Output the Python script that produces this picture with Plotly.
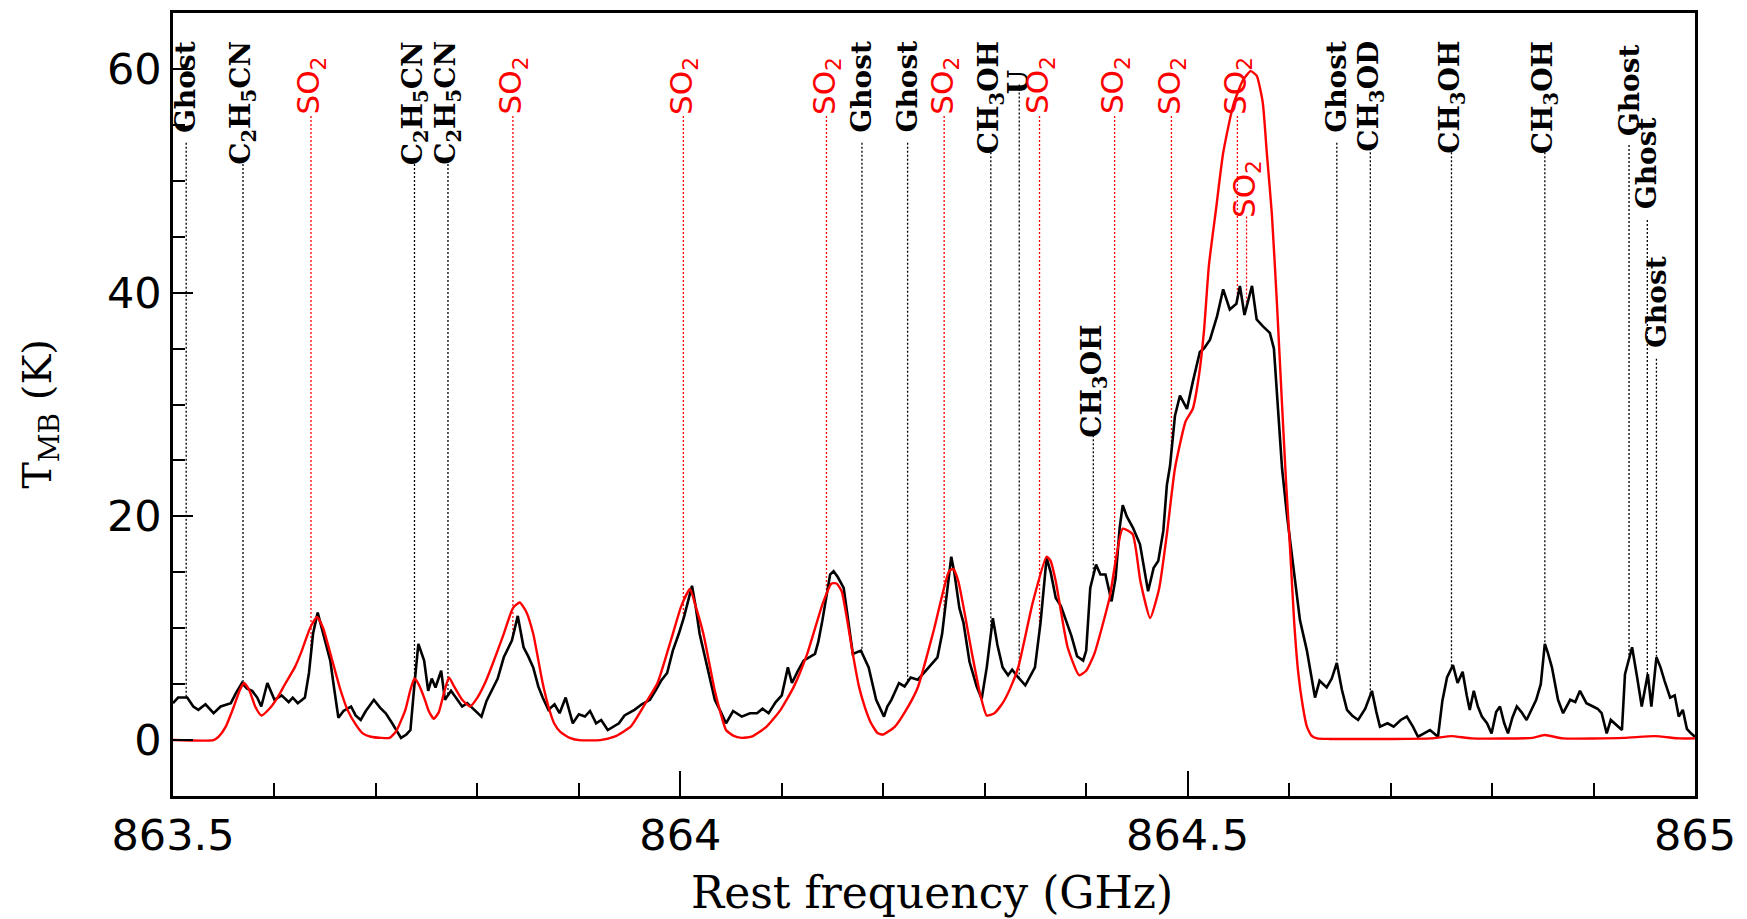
import numpy as np
import plotly.graph_objects as go

# ---------------- data ----------------
obs_freq = [863.500, 863.505, 863.514, 863.520, 863.525, 863.532, 863.540, 863.547, 863.557, 863.562,
            863.568, 863.573, 863.578, 863.583, 863.587, 863.593, 863.600, 863.607, 863.614, 863.618,
            863.623, 863.630, 863.634, 863.638, 863.6426, 863.6494, 863.655, 863.659, 863.663, 863.668,
            863.6755, 863.680, 863.685, 863.690, 863.698, 863.704, 863.7097, 863.716, 863.7247, 863.730,
            863.734, 863.738, 863.7418, 863.7475, 863.7515, 863.755, 863.7587, 863.7643, 863.768, 863.774,
            863.779, 863.785, 863.790, 863.7965, 863.804, 863.809, 863.8154, 863.820, 863.826, 863.834,
            863.8398, 863.8455, 863.850, 863.855, 863.860, 863.8643, 863.870, 863.876, 863.881, 863.887,
            863.894, 863.900, 863.906, 863.911, 863.917, 863.922, 863.9285, 863.934, 863.9395, 863.945,
            863.9548, 863.962, 863.970, 863.976, 863.981, 863.987, 863.9926, 863.9985, 864.0036, 864.0115,
            864.015, 864.019, 864.0263, 864.034, 864.040, 864.045, 864.052, 864.0605, 864.0686, 864.0756,
            864.081, 864.087, 864.094, 864.100, 864.106, 864.110, 864.116, 864.1215, 864.1327, 864.136,
            864.140, 864.1476, 864.151, 864.155, 864.161, 864.166, 864.170, 864.178, 864.1856, 864.193,
            864.197, 864.2007, 864.204, 864.208, 864.2155, 864.221, 864.227, 864.234, 864.242, 864.2534,
            864.258, 864.262, 864.267, 864.270, 864.275, 864.279, 864.285, 864.292, 864.297, 864.302,
            864.308, 864.3125, 864.3176, 864.323, 864.327, 864.333, 864.340, 864.3495, 864.355, 864.361,
            864.365, 864.370, 864.375, 864.3855, 864.391, 864.397, 864.400, 864.404, 864.4097, 864.414,
            864.419, 864.425, 864.429, 864.433, 864.436, 864.440, 864.446, 864.453, 864.461, 864.4665,
            864.471, 864.476, 864.4795, 864.4826, 864.4875, 864.4924, 864.4993, 864.505, 864.512, 864.516,
            864.522, 864.529, 864.535, 864.5415, 864.548, 864.5515, 864.556, 864.5634, 864.568, 864.574,
            864.581, 864.585, 864.589, 864.593, 864.598, 864.604, 864.6107, 864.6175, 864.6255, 864.630,
            864.637, 864.642, 864.647, 864.652, 864.657, 864.662, 864.668, 864.675, 864.6816, 864.686,
            864.6895, 864.697, 864.703, 864.710, 864.716, 864.722, 864.727, 864.733, 864.7388, 864.7467,
            864.751, 864.7556, 864.7615, 864.766, 864.771, 864.775, 864.778, 864.782, 864.786, 864.790,
            864.795, 864.7995, 864.804, 864.8078, 864.812, 864.8157, 864.820, 864.8244, 864.829, 864.834,
            864.839, 864.8435, 864.848, 864.852, 864.855, 864.859, 864.865, 864.870, 864.877, 864.882,
            864.8866, 864.893, 864.8995, 864.904, 864.908, 864.913, 864.917, 864.921, 864.928, 864.931,
            864.938, 864.943, 864.9475, 864.9535, 864.957, 864.962, 864.966, 864.970, 864.9755, 864.980,
            864.984, 864.988, 864.992, 864.996, 865.000]
obs_tmb = [3.3, 3.8, 3.8, 3.0, 2.7, 3.2, 2.4, 3.0, 3.3, 4.2,
           5.1, 4.6, 4.4, 3.8, 3.0, 5.1, 3.6, 4.0, 3.4, 3.8,
           3.3, 3.8, 6.0, 9.5, 11.4, 8.9, 7.1, 4.5, 2.0, 2.6,
           3.0, 2.2, 1.8, 2.6, 3.6, 2.9, 2.4, 1.5, 0.2, 0.5,
           0.9, 5.0, 8.6, 7.1, 4.4, 5.5, 4.7, 6.2, 3.6, 4.4,
           3.8, 3.0, 3.3, 2.7, 2.1, 3.5, 4.7, 5.5, 7.4, 8.9,
           11.1, 8.3, 7.5, 6.5, 4.8, 3.8, 2.7, 3.2, 2.4, 3.8,
           1.5, 2.3, 2.1, 2.6, 1.5, 1.8, 0.9, 1.2, 1.5, 2.2,
           2.7, 3.2, 3.6, 4.5, 5.3, 6.0, 8.0, 9.5, 11.0, 13.8,
           12.0, 9.5, 6.5, 3.6, 2.5, 1.5, 2.6, 2.1, 2.4, 2.4,
           2.8, 2.4, 3.4, 4.0, 6.5, 5.1, 6.2, 7.1, 7.7, 8.8,
           10.7, 14.8, 15.1, 14.6, 13.6, 10.5, 7.7, 8.0, 6.5, 3.6,
           2.8, 2.1, 3.0, 3.6, 5.1, 4.8, 5.6, 5.4, 6.2, 7.4,
           9.5, 12.5, 16.4, 15.0, 11.8, 10.5, 7.0, 4.8, 3.7, 6.5,
           10.9, 8.5, 6.5, 5.8, 6.3, 5.6, 4.9, 6.5, 10.5, 16.3,
           15.0, 12.7, 12.0, 9.3, 7.5, 7.1, 8.0, 13.6, 15.7, 14.8,
           14.8, 12.4, 14.5, 19.0, 21.0, 20.0, 19.0, 17.5, 13.3, 15.4,
           16.0, 18.7, 22.8, 24.5, 29.0, 30.8, 29.6, 32.0, 34.7, 35.0,
           35.8, 37.9, 40.3, 38.5, 39.0, 40.6, 38.0, 40.6, 37.6, 37.0,
           36.4, 35.0, 30.0, 24.3, 20.0, 15.4, 10.7, 8.0, 3.8, 5.3,
           4.7, 5.5, 6.9, 4.5, 2.7, 2.2, 1.8, 2.8, 4.4, 2.5,
           1.2, 1.5, 1.2, 1.8, 2.1, 1.2, 0.3, 0.6, 0.9, 0.3,
           3.5, 5.6, 6.7, 5.1, 6.1, 4.0, 2.7, 4.4, 3.0, 2.1,
           1.5, 0.6, 2.5, 3.0, 1.5, 0.6, 2.0, 3.0, 2.5, 1.8,
           2.8, 3.6, 5.0, 8.6, 7.8, 6.5, 3.6, 2.4, 3.6, 3.4,
           4.4, 3.3, 3.0, 2.8, 2.4, 0.6, 1.8, 1.5, 0.9, 5.9,
           8.3, 5.6, 3.0, 5.9, 3.0, 7.4, 6.5, 5.3, 3.8, 4.0,
           2.1, 2.7, 1.0, 0.6, 0.3]

mod_freq = [863.500, 863.540, 863.545, 863.552, 863.560, 863.566, 863.570, 863.575, 863.581, 863.587,
            863.595, 863.603, 863.611, 863.620, 863.627, 863.635, 863.642, 863.648, 863.657, 863.665,
            863.672, 863.680, 863.687, 863.695, 863.705, 863.7135, 863.720, 863.729, 863.734, 863.738,
            863.742, 863.7475, 863.752, 863.757, 863.762, 863.767, 863.772, 863.777, 863.785, 863.7927,
            863.800, 863.8075, 863.815, 863.826, 863.835, 863.8417, 863.848, 863.855, 863.8643, 863.870,
            863.8756, 863.882, 863.891, 863.900, 863.921, 863.935, 863.951, 863.965, 863.9775, 863.9926,
            864.001, 864.0095, 864.015, 864.0227, 864.034, 864.040, 864.045, 864.052, 864.0605, 864.070,
            864.085, 864.0988, 864.112, 864.125, 864.1403, 864.149, 864.154, 864.159, 864.170, 864.176,
            864.182, 864.188, 864.1947, 864.200, 864.2115, 864.222, 864.234, 864.2497, 864.2648, 864.269,
            864.274, 864.2875, 864.295, 864.302, 864.3095, 864.3176, 864.325, 864.333, 864.3476, 864.361,
            864.365, 864.370, 864.3817, 864.393, 864.400, 864.408, 864.423, 864.436, 864.4458, 864.4534,
            864.463, 864.472, 864.4795, 864.4875, 864.498, 864.505, 864.511, 864.516, 864.521, 864.528,
            864.535, 864.545, 864.5545, 864.562, 864.568, 864.574, 864.578, 864.583, 864.588, 864.593,
            864.597, 864.601, 864.605, 864.609, 864.6135, 864.6175, 864.622, 864.6275, 864.640, 864.700,
            864.740, 864.760, 864.780, 864.840, 864.852, 864.870, 864.930, 864.960, 864.985, 865.000]
mod_tmb = [0.0, 0.0, 0.3, 1.2, 3.0, 4.5, 5.1, 4.5, 3.0, 2.2,
           2.8, 3.8, 5.1, 6.5, 8.0, 10.0, 11.0, 10.0, 7.1, 4.5,
           2.7, 1.4, 0.6, 0.3, 0.2, 0.2, 0.8, 2.7, 4.5, 5.5,
           5.0, 3.8, 2.6, 1.9, 2.5, 4.2, 5.6, 4.8, 3.6, 3.0,
           3.8, 5.1, 6.8, 9.5, 11.8, 12.3, 11.5, 9.5, 5.1, 3.0,
           1.5, 0.7, 0.2, 0.0, 0.0, 0.3, 1.2, 3.2, 5.1, 9.5,
           12.0, 13.5, 12.0, 9.5, 4.4, 2.3, 0.9, 0.4, 0.2, 0.3,
           1.2, 2.7, 4.8, 7.7, 12.2, 14.0, 14.0, 13.3, 7.7, 4.8,
           2.9, 1.5, 0.6, 0.5, 1.2, 2.6, 4.7, 9.8, 15.1, 15.3,
           14.2, 7.7, 4.3, 2.2, 2.4, 3.3, 4.6, 6.5, 12.4, 16.4,
           16.0, 14.2, 8.3, 5.8, 6.2, 7.7, 12.7, 18.9, 18.4, 14.2,
           10.9, 13.6, 18.4, 24.3, 28.5, 29.6, 32.5, 36.5, 42.5, 47.5,
           52.5, 56.8, 59.0, 59.8, 59.4, 57.0, 52.5, 47.0, 39.0, 30.0,
           23.0, 17.0, 10.5, 6.0, 3.0, 1.2, 0.4, 0.15, 0.1, 0.1,
           0.15, 0.35, 0.15, 0.2, 0.45, 0.15, 0.2, 0.35, 0.15, 0.15]

# line identifications
line_freq = [863.513, 863.569, 863.636, 863.738, 863.771, 863.835, 864.003, 864.144, 864.179, 864.224,
             864.260, 864.306, 864.334, 864.354, 864.407, 864.428, 864.484, 864.549, 864.558, 864.647,
             864.680, 864.760, 864.852, 864.935, 864.953, 864.962]
line_name = ["Ghost", "C2H5CN", "SO2", "C2H5CN", "C2H5CN", "SO2", "SO2", "SO2", "Ghost", "Ghost",
             "SO2", "CH3OH", "U", "SO2", "CH3OH", "SO2", "SO2", "SO2", "SO2", "Ghost",
             "CH3OD", "CH3OH", "CH3OH", "Ghost", "Ghost", "Ghost"]
label_top = [62.6, 62.6, 61.2, 62.6, 62.6, 61.2, 61.2, 61.2, 62.6, 62.6,
             61.2, 62.6, 60.0, 61.2, 37.2, 61.2, 61.2, 61.2, 51.9, 62.6,
             62.6, 62.6, 62.6, 62.3, 55.8, 43.4]
label_bottom = [53.4, 51.5, 55.8, 51.5, 51.5, 55.8, 55.8, 55.8, 53.4, 53.4,
                55.8, 52.9, 58.6, 55.8, 27.6, 55.8, 55.8, 55.8, 46.8, 53.4,
                52.9, 52.9, 52.9, 53.2, 46.5, 34.1]

x_tickvals = [863.5, 864, 864.5, 865]
x_ticktext = ["863.5", "864", "864.5", "865"]
y_tickvals = [0, 20, 40, 60]
y_ticktext = ["0", "20", "40", "60"]

# ---------------- figure ----------------
html_name = {
    "Ghost": "Ghost",
    "C2H5CN": "C<sub>2</sub>H<sub>5</sub>CN",
    "SO2": "SO<sub>2</sub>",
    "CH3OH": "CH<sub>3</sub>OH",
    "CH3OD": "CH<sub>3</sub>OD",
    "U": "U",
}

fig = go.Figure()

for col, pick in (("black", lambda n: n != "SO2"), ("red", lambda n: n == "SO2")):
    xs, ys = [], []
    for f, n, b in zip(line_freq, line_name, label_bottom):
        if pick(n):
            xs += [f, f, None]
            ys += [b, float(np.interp(f, obs_freq, obs_tmb)), None]
    fig.add_trace(go.Scatter(x=xs, y=ys, mode="lines", hoverinfo="skip",
                             line=dict(color=col, width=1.3, dash="2px,2px")))

fig.add_trace(go.Scatter(x=obs_freq, y=obs_tmb, mode="lines",
                         line=dict(color="black", width=2.6, shape="linear")))
fig.add_trace(go.Scatter(x=mod_freq, y=mod_tmb, mode="lines",
                         line=dict(color="#ff0000", width=2.4, shape="spline", smoothing=0.5)))

for f, n, t in zip(line_freq, line_name, label_top):
    red = n == "SO2"
    fig.add_annotation(
        x=f, y=t, xref="x", yref="y", text=html_name[n], showarrow=False,
        textangle=-90, xanchor="center", yanchor="top", borderpad=0,
        font=dict(family="DejaVu Sans" if red else "DejaVu Serif",
                  size=31 if red else 28, color="#ff0000" if red else "black",
                  weight="normal" if red else "bold"),
    )

fig.add_annotation(x=-0.0874, y=0.488, xref="paper", yref="paper",
                   text="T<sub>MB</sub> (K)", showarrow=False, textangle=-90,
                   xanchor="center", yanchor="middle",
                   font=dict(family="DejaVu Serif", size=40, color="black"))
fig.add_annotation(x=0.499, y=-0.123, xref="paper", yref="paper",
                   text="Rest frequency (GHz)", showarrow=False,
                   xanchor="center", yanchor="middle",
                   font=dict(family="DejaVu Serif", size=44, color="black"))

axis_common = dict(showgrid=False, zeroline=False, showline=True, mirror=True,
                   linecolor="black", linewidth=2.5, ticks="inside", tickcolor="black",
                   tickwidth=2, tickfont=dict(family="DejaVu Sans", size=43, color="black"))

fig.update_xaxes(range=[863.5, 865], tickvals=x_tickvals, ticktext=x_ticktext, ticklen=25,
                 minor=dict(dtick=0.1, tick0=863.5, ticks="inside", ticklen=13, tickwidth=2,
                            tickcolor="black", showgrid=False),
                 **axis_common)
fig.update_yaxes(range=[-5, 65], tickvals=y_tickvals, ticktext=y_ticktext, ticklen=20,
                 minor=dict(dtick=5, tick0=0, ticks="inside", ticklen=12, tickwidth=2,
                            tickcolor="black", showgrid=False),
                 **axis_common)

fig.update_layout(width=1747, height=919, autosize=False, showlegend=False,
                  paper_bgcolor="white", plot_bgcolor="white",
                  margin=dict(l=173, r=52, t=10, b=123))

fig.write_html("out.html")
